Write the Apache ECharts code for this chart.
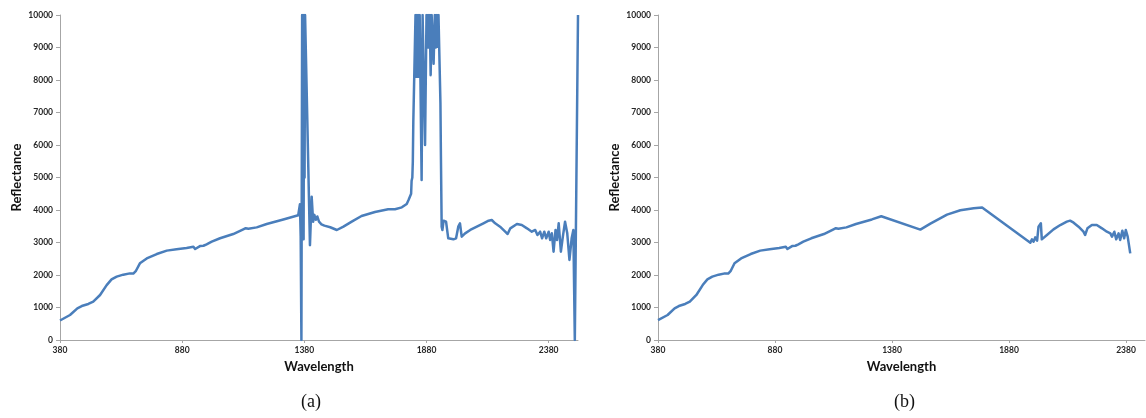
<!DOCTYPE html>
<html>
<head>
<meta charset="utf-8">
<script src="https://cdn.jsdelivr.net/npm/echarts@6/dist/echarts.min.js"></script>
<style>
  html, body { margin: 0; padding: 0; background: #ffffff; }
  #chart { width: 1146px; height: 418px; }
</style>
</head>
<body>
<div id="chart"></div>
<script>
// (a) raw spectrum, including the water-absorption bands and the noisy tail
const rawWavelength = [
  380, 421, 451, 469, 496, 516, 544, 571, 591, 612, 639, 666, 680, 691, 707, 735,
  776, 817, 857, 898, 926, 933, 939, 953, 967, 975, 980, 1001, 1035, 1089, 1130,
  1140, 1151, 1185, 1226, 1294, 1355, 1362, 1365, 1368, 1371, 1373, 1375, 1377,
  1379, 1381, 1383, 1386, 1389, 1403, 1410, 1416, 1421, 1427, 1433, 1440, 1450,
  1462, 1486, 1513, 1540, 1574, 1614, 1669, 1723, 1751, 1779, 1799, 1806, 1809,
  1817, 1819, 1822, 1824, 1826, 1832, 1835, 1838, 1840, 1843, 1846, 1849, 1852,
  1856, 1860, 1864, 1868, 1874, 1880, 1884, 1887, 1890, 1893, 1897, 1901, 1904,
  1909, 1914, 1918, 1922, 1925, 1929, 1934, 1937, 1939, 1942, 1945, 1950, 1960,
  1969, 1976, 1990, 2001, 2010, 2017, 2024, 2038, 2059, 2086, 2113, 2134, 2147,
  2161, 2181, 2202, 2212, 2223, 2250, 2270, 2291, 2311, 2325, 2334, 2345, 2353,
  2362, 2370, 2380, 2386, 2393, 2400, 2408, 2414, 2421, 2430, 2438, 2447, 2456,
  2465, 2474, 2481, 2487, 2494, 2500
];
const rawReflectance = [
  600, 770, 975, 1045, 1108, 1180, 1385, 1690, 1865, 1950, 2010, 2050, 2045, 2130, 2360, 2510,
  2645, 2750, 2790, 2830, 2870, 2800, 2830, 2890, 2900, 2860, 2945, 3025, 3130, 3260, 3405,
  3440, 3425, 3465, 3570, 3710, 3840, 4180, 3200, 0, 10000, 4300, 10000, 3100,
  10000, 5000, 10000, 10000, 10000, 2920, 4410, 3640, 3850, 3700, 3800, 3640, 3560,
  3520, 3470, 3385, 3490, 3640, 3815, 3940, 4020, 4021, 4082, 4185, 4300, 4360,
  4500, 4900, 5000, 5500, 6718, 6750, 10000, 8100, 10000, 8100, 10000, 8100, 10000,
  10000, 4920, 10000, 10000, 6000, 10000, 9000, 10000, 9000, 10000, 8150, 10000, 10000,
  8500, 10000, 9000, 10000, 9025, 10000, 10000, 7280, 5640, 3487, 3385, 3672, 3640,
  3128, 3077, 3097, 3128, 3487, 3590, 3180, 3282, 3385, 3487, 3590, 3672, 3692,
  3590, 3487, 3333, 3262, 3436, 3569, 3538, 3436, 3333, 3385, 3230, 3333, 3128,
  3333, 3128, 3333, 3077, 3282, 2718, 3385, 3077, 3590, 2718, 3180, 3641, 3282,
  2462, 3128, 3385, 0, 0, 10000
];

// (b) spectrum after removing the absorption bands and the tail beyond 2400 nm
const cleanWavelength = [
  380, 421, 451, 469, 496, 516, 544, 571, 591, 612, 639, 666, 680, 691, 707, 735,
  776, 817, 857, 898, 926, 933, 939, 953, 967, 975, 980, 1001, 1035, 1089, 1130,
  1140, 1151, 1185, 1226, 1294, 1334, 1501, 1544, 1615, 1672, 1729, 1765, 1971,
  1978, 1985, 1992, 2000, 2006, 2016, 2020, 2042, 2070, 2099, 2127, 2141, 2156,
  2177, 2198, 2205, 2215, 2234, 2255, 2277, 2298, 2313, 2320, 2330, 2338, 2348,
  2355, 2364, 2372, 2379, 2387, 2395, 2398
];
const cleanReflectance = [
  610, 770, 975, 1045, 1108, 1180, 1385, 1690, 1865, 1950, 2010, 2050, 2045, 2130, 2360, 2510,
  2645, 2750, 2790, 2830, 2870, 2800, 2830, 2890, 2900, 2860, 2945, 3025, 3130, 3260, 3405,
  3440, 3425, 3465, 3570, 3710, 3808, 3398, 3582, 3859, 3992, 4053, 4074, 2995,
  3097, 3026, 3159, 3056, 3487, 3590, 3097, 3231, 3405, 3538, 3641, 3672, 3610,
  3487, 3333, 3231, 3436, 3538, 3538, 3436, 3333, 3282, 3180, 3333, 3097, 3282,
  3077, 3364, 3128, 3385, 3180, 3180, 2667
];

const wavelengthTicks = [380, 880, 1380, 1880, 2380];
const panelLabels = ['(a)', '(b)'];
const xTitle = 'Wavelength';
const yTitle = 'Reflectance';

const zip = (xs, ys) => xs.map((x, i) => [x, ys[i]]);
const plain = (v) => String(v);

const tickFont = { fontFamily: 'Lato', fontWeight: 'bold', fontSize: 8.5, color: '#262626' };
const titleFont = { fontFamily: 'Lato', fontWeight: 'bold', fontSize: 13, color: '#111111' };
const axisGray = '#a6a6a6';

function xAxisFor(gridIndex, max) {
  return {
    type: 'value', gridIndex, min: 380, max,
    name: xTitle, nameLocation: 'middle', nameGap: 20, nameTextStyle: titleFont,
    axisLine: { show: true, lineStyle: { color: axisGray, width: 1 } },
    axisTick: { show: true, length: 3, customValues: wavelengthTicks, lineStyle: { color: axisGray } },
    axisLabel: Object.assign({ customValues: wavelengthTicks, margin: 6, formatter: plain }, tickFont),
    splitLine: { show: false }
  };
}
function yAxisFor(gridIndex) {
  return {
    type: 'value', gridIndex, min: 0, max: 10000, interval: 1000,
    name: yTitle, nameLocation: 'middle', nameGap: 37, nameTextStyle: titleFont,
    axisLine: { show: true, lineStyle: { color: axisGray, width: 1 } },
    axisTick: { show: true, length: 4, lineStyle: { color: axisGray } },
    axisLabel: Object.assign({ margin: 7, formatter: plain }, tickFont),
    splitLine: { show: false }
  };
}

const lineStyle = { color: '#4a7ebb', width: 2.5, join: 'round' };

const chart = echarts.init(document.getElementById('chart'), null, { renderer: 'canvas' });
chart.setOption({
  animation: false,
  backgroundColor: '#ffffff',
  grid: [
    { left: 60, top: 15, width: 518, height: 325 },
    { left: 658, top: 15, width: 487, height: 325 }
  ],
  xAxis: [xAxisFor(0, 2500), xAxisFor(1, 2461)],
  yAxis: [yAxisFor(0), yAxisFor(1)],
  series: [
    { type: 'line', xAxisIndex: 0, yAxisIndex: 0, data: zip(rawWavelength, rawReflectance),
      showSymbol: false, symbol: 'none', lineStyle, clip: true },
    { type: 'line', xAxisIndex: 1, yAxisIndex: 1, data: zip(cleanWavelength, cleanReflectance),
      showSymbol: false, symbol: 'none', lineStyle, clip: true }
  ],
  graphic: [
    { type: 'text', left: 301, top: 393,
      style: { text: panelLabels[0], font: '18px "Liberation Serif"', fill: '#111111' } },
    { type: 'text', left: 894, top: 393,
      style: { text: panelLabels[1], font: '18px "Liberation Serif"', fill: '#111111' } }
  ]
});
</script>
</body>
</html>
